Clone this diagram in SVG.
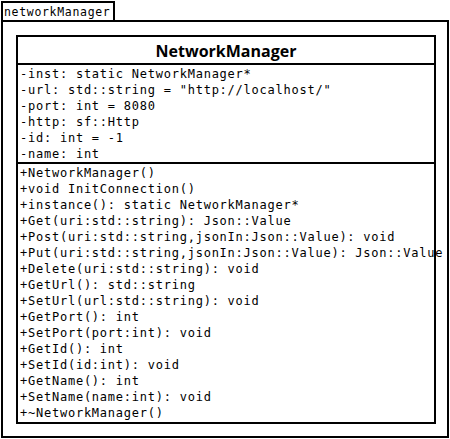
<svg xmlns="http://www.w3.org/2000/svg" width="450" height="439" viewBox="0 0 450 439">
<style>
.ln{fill:none;stroke:#000;stroke-width:2}
.m{font-family:"DejaVu Sans Mono",monospace;font-size:12px;letter-spacing:0.76px;fill:#000}
.tab{font-family:"DejaVu Sans Mono",monospace;font-size:11.5px;letter-spacing:0.68px;fill:#000}
.t{font-family:"Open Sans","Noto Sans",sans-serif;font-size:16px;font-weight:bold;fill:#000}
</style>
<rect width="450" height="439" fill="#fff"/>
<g id="package">
<rect class="ln" x="2" y="2" width="112" height="19"/>
<rect class="ln" x="2" y="21" width="446" height="416"/>
<text class="tab" x="4" y="16">networkManager</text>
</g>
<g id="NetworkManager">
<rect class="ln" x="17" y="36" width="418" height="387" fill="#fff"/>
<line class="ln" x1="17" y1="64" x2="435" y2="64"/>
<line class="ln" x1="17" y1="163" x2="435" y2="163"/>
<text class="t" x="226" y="57" text-anchor="middle">NetworkManager</text>
<g class="m">
<text x="20" y="78">-inst: static NetworkManager*</text>
<text x="20" y="94">-url: std::string = "http://localhost/"</text>
<text x="20" y="110">-port: int = 8080</text>
<text x="20" y="126">-http: sf::Http</text>
<text x="20" y="142">-id: int = -1</text>
<text x="20" y="158">-name: int</text>
</g>
<g class="m">
<text x="20" y="177">+NetworkManager()</text>
<text x="20" y="193">+void InitConnection()</text>
<text x="20" y="209">+instance(): static NetworkManager*</text>
<text x="20" y="225">+Get(uri:std::string): Json::Value</text>
<text x="20" y="241">+Post(uri:std::string,jsonIn:Json::Value): void</text>
<text x="20" y="257">+Put(uri:std::string,jsonIn:Json::Value): Json::Value</text>
<text x="20" y="273">+Delete(uri:std::string): void</text>
<text x="20" y="289">+GetUrl(): std::string</text>
<text x="20" y="305">+SetUrl(url:std::string): void</text>
<text x="20" y="321">+GetPort(): int</text>
<text x="20" y="337">+SetPort(port:int): void</text>
<text x="20" y="353">+GetId(): int</text>
<text x="20" y="369">+SetId(id:int): void</text>
<text x="20" y="385">+GetName(): int</text>
<text x="20" y="401">+SetName(name:int): void</text>
<text x="20" y="417">+~NetworkManager()</text>
</g>
</g>
</svg>
